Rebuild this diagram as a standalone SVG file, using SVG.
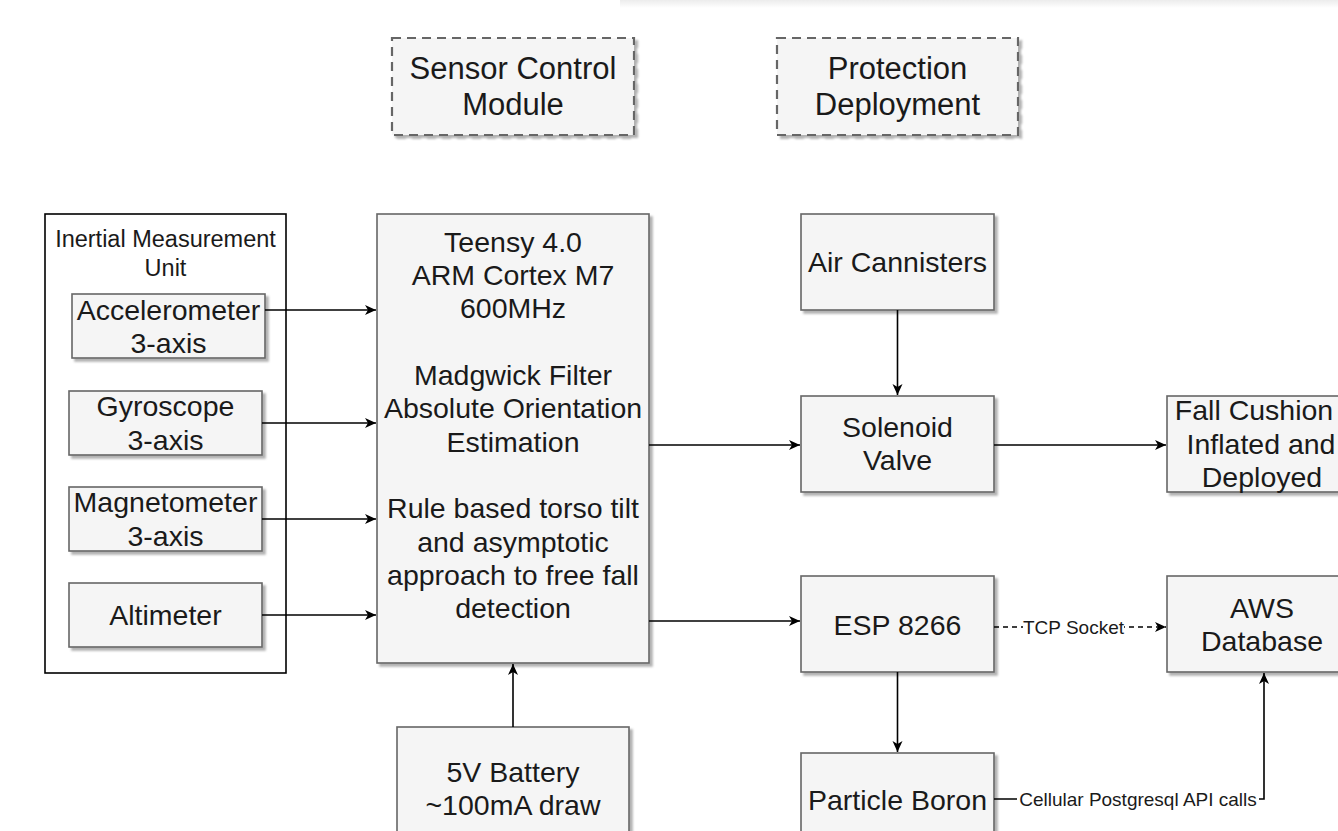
<svg xmlns="http://www.w3.org/2000/svg" width="1338" height="831" viewBox="0 0 1338 831">
<defs>
<linearGradient id="topbar" x1="0" y1="0" x2="0" y2="1">
<stop offset="0" stop-color="#ececec"/>
<stop offset="1" stop-color="#ffffff"/>
</linearGradient>
<filter id="sh" x="-10%" y="-10%" width="130%" height="130%">
<feDropShadow dx="3" dy="3" stdDeviation="1.3" flood-color="#000" flood-opacity="0.3"/>
</filter>
<marker id="arr" markerUnits="userSpaceOnUse" markerWidth="14" markerHeight="14" refX="12" refY="7" orient="auto">
<path d="M1,2 L12,7 L1,12 L4,7 z" fill="#000"/>
</marker>
</defs>
<style>
.box{fill:#f5f5f5;stroke:#666666;stroke-width:1.6;filter:url(#sh)}
.hdr{fill:#f5f5f5;stroke:#666666;stroke-width:2.2;stroke-dasharray:9 6;filter:url(#sh)}
.t{font-family:"Liberation Sans",Arial,Helvetica,sans-serif;font-size:28.5px;fill:#1a1a1a;text-anchor:middle}
.h{font-size:31px}
.s{font-size:23.5px}
.lb{font-family:"Liberation Sans",Arial,Helvetica,sans-serif;font-size:19px;fill:#1a1a1a;text-anchor:middle}
.c{fill:none;stroke:#000;stroke-width:1.6}
.d{stroke-dasharray:5 4}
</style>
<rect x="620" y="0" width="718" height="8" fill="url(#topbar)"/>

<g id="hdr-sensor">
<rect class="hdr" x="392" y="38" width="242" height="97"/>
<text class="t h" x="513" y="79">Sensor Control</text>
<text class="t h" x="513" y="115">Module</text>
</g>
<g id="hdr-protection">
<rect class="hdr" x="777" y="38" width="241" height="97"/>
<text class="t h" x="897.5" y="79">Protection</text>
<text class="t h" x="897.5" y="115">Deployment</text>
</g>

<g id="imu">
<rect x="45" y="214" width="241" height="459" fill="#fff" stroke="#000" stroke-width="1.6"/>
<text class="t s" x="165.5" y="247">Inertial Measurement</text>
<text class="t s" x="165.5" y="276">Unit</text>
</g>
<g id="accelerometer">
<rect class="box" x="72" y="294" width="193" height="64"/>
<text class="t" x="168.5" y="319.6">Accelerometer</text>
<text class="t" x="168.5" y="353">3-axis</text>
</g>
<g id="gyroscope">
<rect class="box" x="69" y="391" width="193" height="64"/>
<text class="t" x="165.5" y="416.4">Gyroscope</text>
<text class="t" x="165.5" y="449.7">3-axis</text>
</g>
<g id="magnetometer">
<rect class="box" x="69" y="487" width="193" height="64"/>
<text class="t" x="165.5" y="512.4">Magnetometer</text>
<text class="t" x="165.5" y="545.7">3-axis</text>
</g>
<g id="altimeter">
<rect class="box" x="69" y="583" width="193" height="64"/>
<text class="t" x="165.5" y="625">Altimeter</text>
</g>

<g id="teensy">
<rect class="box" x="377" y="214" width="272" height="449"/>
<text class="t" x="513" y="251.7">Teensy 4.0</text>
<text class="t" x="513" y="285">ARM Cortex M7</text>
<text class="t" x="513" y="318.3">600MHz</text>
<text class="t" x="513" y="385">Madgwick Filter</text>
<text class="t" x="513" y="418.3">Absolute Orientation</text>
<text class="t" x="513" y="451.6">Estimation</text>
<text class="t" x="513" y="518.3">Rule based torso tilt</text>
<text class="t" x="513" y="551.6">and asymptotic</text>
<text class="t" x="513" y="585">approach to free fall</text>
<text class="t" x="513" y="618.3">detection</text>
</g>

<g id="battery">
<rect class="box" x="397" y="727" width="232" height="123"/>
<text class="t" x="513" y="781.7">5V Battery</text>
<text class="t" x="513" y="815">~100mA draw</text>
</g>

<g id="air">
<rect class="box" x="801" y="214" width="193" height="96"/>
<text class="t" x="897.5" y="272">Air Cannisters</text>
</g>
<g id="solenoid">
<rect class="box" x="801" y="396" width="193" height="96"/>
<text class="t" x="897.5" y="437">Solenoid</text>
<text class="t" x="897.5" y="470.3">Valve</text>
</g>
<g id="cushion">
<rect class="box" x="1167" y="396" width="193" height="96"/>
<text class="t" x="1254" y="420.4">Fall Cushion</text>
<text class="t" x="1261" y="453.7">Inflated and</text>
<text class="t" x="1262" y="487">Deployed</text>
</g>
<g id="esp">
<rect class="box" x="801" y="576" width="193" height="96"/>
<text class="t" x="897.5" y="634.5">ESP 8266</text>
</g>
<g id="aws">
<rect class="box" x="1167" y="576" width="193" height="96"/>
<text class="t" x="1262" y="618">AWS</text>
<text class="t" x="1262" y="651.3">Database</text>
</g>
<g id="boron">
<rect class="box" x="801" y="753" width="193" height="96"/>
<text class="t" x="897.5" y="810">Particle Boron</text>
</g>

<g id="connectors">
<path class="c" d="M265,310 H376" marker-end="url(#arr)"/>
<path class="c" d="M262,423 H376" marker-end="url(#arr)"/>
<path class="c" d="M262,519 H376" marker-end="url(#arr)"/>
<path class="c" d="M262,615 H376" marker-end="url(#arr)"/>
<path class="c" d="M513,727 V664" marker-end="url(#arr)"/>
<path class="c" d="M649,445 H800" marker-end="url(#arr)"/>
<path class="c" d="M649,621 H800" marker-end="url(#arr)"/>
<path class="c" d="M897.5,310 V395" marker-end="url(#arr)"/>
<path class="c" d="M994,445 H1166" marker-end="url(#arr)"/>
<path class="c d" d="M994,627 H1166" marker-end="url(#arr)"/>
<path class="c" d="M897.5,672 V752" marker-end="url(#arr)"/>
<path class="c" d="M994,799 H1264 V673" marker-end="url(#arr)"/>
<rect x="1023" y="616" width="101" height="22" fill="#fff"/>
<text class="lb" x="1073.5" y="633.5">TCP Socket</text>
<rect x="1017" y="788" width="242" height="22" fill="#fff"/>
<text class="lb" x="1138" y="805.5">Cellular Postgresql API calls</text>
</g>
</svg>
